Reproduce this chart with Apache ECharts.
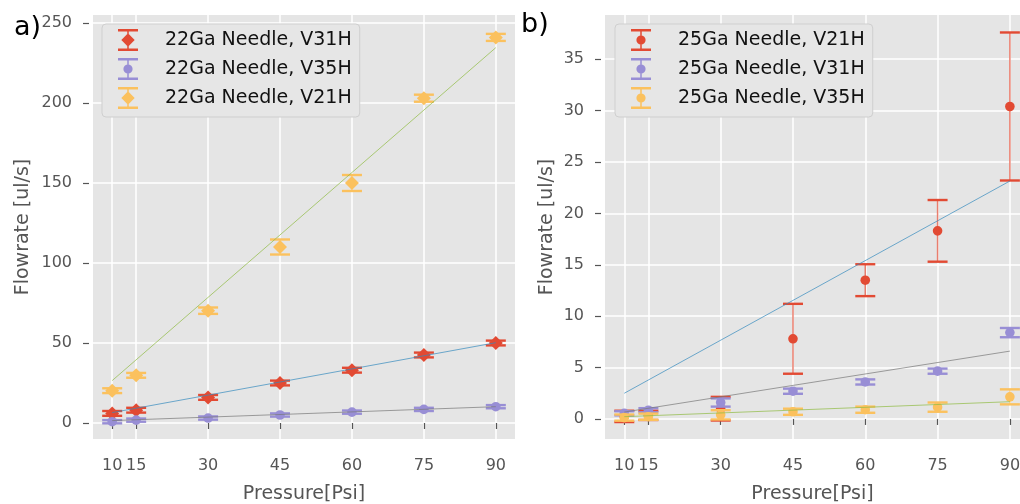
<!DOCTYPE html>
<html>
<head>
<meta charset="utf-8">
<script src="https://cdn.jsdelivr.net/npm/echarts@6/dist/echarts.min.js"></script>
<style>
  html, body { margin: 0; padding: 0; background: #fff; }
  #chart { width: 1020px; height: 504px; }
</style>
</head>
<body>
<div id="chart"></div>
<script>
// Pressure settings (x axis) shared by both panels
const pressure = [10, 15, 30, 45, 60, 75, 90];
const xTicks = [10, 15, 30, 45, 60, 75, 90];

// Panel a) 22Ga needle, mean flowrate and error
const a_V31H = [6, 8, 16, 25, 33, 42.5, 50];
const a_V31H_err = [1.5, 1.5, 1.5, 1.5, 1.5, 1.5, 1.5];
const a_V35H = [0.8, 1.8, 3.1, 5, 6.8, 8.5, 10.2];
const a_V35H_err = [1, 1, 1, 1, 1, 1, 1];
const a_V21H = [20.2, 29.8, 70.2, 110, 150, 203, 241];
const a_V21H_err = [1.5, 1.5, 2, 4.7, 5, 2.2, 2.2];
// linear fits, value at 10 and 90 Psi
const fitX = [10, 90];
const a_fit_V31H = [6.5, 50.2];
const a_fit_V35H = [1.5, 10.2];
const a_fit_V21H = [26.5, 234.6];
const aYTicks = [0, 50, 100, 150, 200, 250];

// Panel b) 25Ga needle
const b_V21H = [0.25, 0.35, 1.0, 7.8, 13.5, 18.3, 30.4];
const b_V21H_err = [0.55, 0.45, 1.15, 3.4, 1.55, 3.0, 7.2];
const b_V31H = [0.55, 0.85, 1.6, 2.7, 3.6, 4.65, 8.4];
const b_V31H_err = [0.2, 0.2, 0.4, 0.25, 0.25, 0.25, 0.45];
const b_V35H = [0.13, 0.22, 0.4, 0.7, 0.9, 1.15, 2.15];
const b_V35H_err = [0.3, 0.3, 0.45, 0.3, 0.3, 0.45, 0.73];
const b_fit_V21H = [2.5, 23.15];
const b_fit_V31H = [0.67, 6.6];
const b_fit_V35H = [0.22, 1.68];
const bYTicks = [0, 5, 10, 15, 20, 25, 30, 35];

const C = { red: '#E24A33', blue: '#348ABD', purple: '#988ED5', grey: '#777777', yellow: '#FBC15E', green: '#8EBA42' };
const FONT = 'DejaVu Sans';

// legend glyphs: cap, stem, cap + marker
const iconDiamond = 'path://M0 0H20V2.4H0Z M9.25 2H10.75V20H9.25Z M0 19.6H20V22H0Z M10 4.3L16.7 11L10 17.7L3.3 11Z';
const iconCircle = 'path://M0 0H20V2.4H0Z M9.25 2H10.75V20H9.25Z M0 19.6H20V22H0Z M14.6 11A4.6 4.6 0 1 1 5.4 11A4.6 4.6 0 1 1 14.6 11Z';

function errorBarRenderer(marker) {
  return function (params, api) {
    const x = api.value(0), y = api.value(1), e = api.value(2);
    const c = api.coord([x, y]);
    const hi = api.coord([x, y + e]);
    const lo = api.coord([x, y - e]);
    const color = api.visual('color');
    const half = 10;
    const mark = marker === 'diamond'
      ? { type: 'polygon', shape: { points: [[c[0], c[1] - 7], [c[0] + 7, c[1]], [c[0], c[1] + 7], [c[0] - 7, c[1]]] }, style: { fill: color } }
      : { type: 'circle', shape: { cx: c[0], cy: c[1], r: 4.8 }, style: { fill: color } };
    return {
      type: 'group',
      children: [
        { type: 'line', shape: { x1: c[0], y1: hi[1], x2: c[0], y2: lo[1] }, style: { stroke: color, lineWidth: 1.5, opacity: 0.7 } },
        { type: 'line', shape: { x1: c[0] - half, y1: hi[1], x2: c[0] + half, y2: hi[1] }, style: { stroke: color, lineWidth: 2.4 } },
        { type: 'line', shape: { x1: c[0] - half, y1: lo[1], x2: c[0] + half, y2: lo[1] }, style: { stroke: color, lineWidth: 2.4 } },
        mark
      ]
    };
  };
}

function errSeries(name, idx, vals, errs, color, marker) {
  return {
    name, type: 'custom', xAxisIndex: idx, yAxisIndex: idx,
    itemStyle: { color },
    renderItem: errorBarRenderer(marker),
    encode: { x: 0, y: 1 },
    data: pressure.map((p, i) => [p, vals[i], errs[i]]),
    clip: false,
    silent: true
  };
}

function fitSeries(idx, ys, color) {
  return {
    type: 'line', xAxisIndex: idx, yAxisIndex: idx,
    data: fitX.map((x, i) => [x, ys[i]]),
    showSymbol: false, symbol: 'none', silent: true,
    lineStyle: { color, width: 1, opacity: 0.7 },
    emphasis: { disabled: true }
  };
}

// the right panel runs past the page edge, so its visible range stops short of 94
function xAxis(gridIndex, max) {
  return {
    type: 'value', gridIndex, min: 6, max, offset: 4,
    name: 'Pressure[Psi]', nameLocation: 'middle', nameGap: 42,
    nameTextStyle: { fontFamily: FONT, fontSize: 19, color: '#555' },
    axisLine: { show: false },
    axisTick: { show: true, customValues: xTicks, length: 6, lineStyle: { color: '#555', width: 1.2 } },
    axisLabel: { customValues: xTicks, fontFamily: FONT, fontSize: 16, color: '#555', margin: 15 },
    splitLine: { show: true, lineStyle: { color: '#fff', width: 1.5 } }
  };
}

function yAxis(gridIndex, min, max, ticks, gap) {
  return {
    type: 'value', gridIndex, min, max, offset: 4,
    name: 'Flowrate [ul/s]', nameLocation: 'middle', nameGap: gap,
    nameTextStyle: { fontFamily: FONT, fontSize: 19, color: '#555' },
    axisLine: { show: false },
    axisTick: { show: true, customValues: ticks, length: 6, lineStyle: { color: '#555', width: 1.2 } },
    axisLabel: { customValues: ticks, fontFamily: FONT, fontSize: 16, color: '#555', margin: 17 },
    splitLine: { show: true, lineStyle: { color: '#fff', width: 1.5 } }
  };
}

function legend(left, items) {
  return {
    orient: 'vertical', left, top: 24,
    itemWidth: 20, itemHeight: 22, itemGap: 7,
    padding: [5, 8, 8, 16],
    backgroundColor: '#E6E6E6', borderColor: '#CFCFCF', borderWidth: 1, borderRadius: 4,
    selectedMode: false,
    itemStyle: { borderWidth: 0 },
    textStyle: { fontFamily: FONT, fontSize: 19, color: '#111', padding: [0, 0, 0, 22] },
    data: items
  };
}

const chart = echarts.init(document.getElementById('chart'), null, { renderer: 'canvas' });
chart.setOption({
  animation: false,
  backgroundColor: '#fff',
  grid: [
    { left: 93, top: 15, width: 422, height: 424, show: true, backgroundColor: '#E5E5E5', borderWidth: 0, outerBoundsMode: 'none' },
    { left: 605, top: 15, width: 415, height: 424, show: true, backgroundColor: '#E5E5E5', borderWidth: 0, outerBoundsMode: 'none' }
  ],
  xAxis: [xAxis(0, 94), xAxis(1, 92.1)],
  yAxis: [yAxis(0, -10, 255, aYTicks, 56), yAxis(1, -1.95, 39.3, bYTicks, 44)],
  legend: [
    legend(102, [
      { name: '22Ga Needle, V31H', icon: iconDiamond },
      { name: '22Ga Needle, V35H', icon: iconCircle },
      { name: '22Ga Needle, V21H', icon: iconDiamond }
    ]),
    legend(615, [
      { name: '25Ga Needle, V21H', icon: iconCircle },
      { name: '25Ga Needle, V31H', icon: iconCircle },
      { name: '25Ga Needle, V35H', icon: iconCircle }
    ])
  ],
  graphic: [
    { type: 'text', left: 14, top: 14, style: { text: 'a)', fontFamily: FONT, fontSize: 27, fill: '#000' } },
    { type: 'text', left: 521, top: 11, style: { text: 'b)', fontFamily: FONT, fontSize: 27, fill: '#000' } }
  ],
  series: [
    errSeries('22Ga Needle, V31H', 0, a_V31H, a_V31H_err, C.red, 'diamond'),
    fitSeries(0, a_fit_V31H, C.blue),
    errSeries('22Ga Needle, V35H', 0, a_V35H, a_V35H_err, C.purple, 'circle'),
    fitSeries(0, a_fit_V35H, C.grey),
    errSeries('22Ga Needle, V21H', 0, a_V21H, a_V21H_err, C.yellow, 'diamond'),
    fitSeries(0, a_fit_V21H, C.green),

    errSeries('25Ga Needle, V21H', 1, b_V21H, b_V21H_err, C.red, 'circle'),
    fitSeries(1, b_fit_V21H, C.blue),
    errSeries('25Ga Needle, V31H', 1, b_V31H, b_V31H_err, C.purple, 'circle'),
    fitSeries(1, b_fit_V31H, C.grey),
    errSeries('25Ga Needle, V35H', 1, b_V35H, b_V35H_err, C.yellow, 'circle'),
    fitSeries(1, b_fit_V35H, C.green)
  ]
});
</script>
</body>
</html>
